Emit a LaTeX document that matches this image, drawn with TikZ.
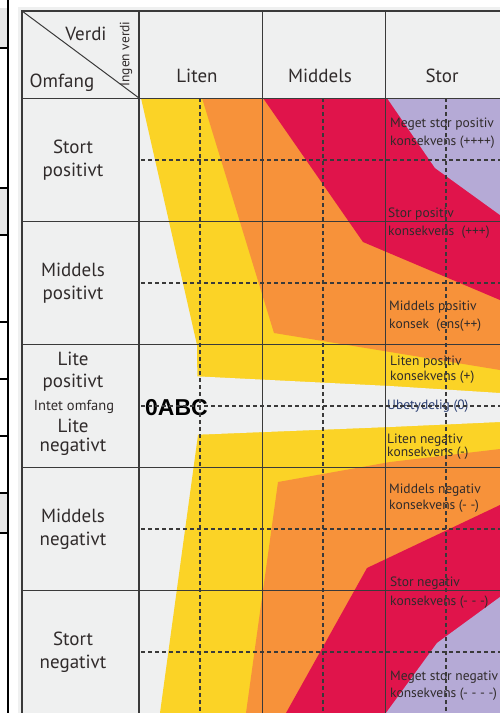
\documentclass[tikz,border=0pt]{standalone}
\usepackage{fontspec}
\setmainfont{PT Sans}
\newfontfamily\abcfont{Liberation Sans}
\usepackage{tikz}
\usetikzlibrary{positioning}
\pgfdeclarelayer{back}
\pgfsetlayers{back,main}
\definecolor{bg-color}{HTML}{EFF0F0}
\definecolor{strip-color}{HTML}{E6E6E6}
\definecolor{y-color}{HTML}{FBD326}
\definecolor{o-color}{HTML}{F7923A}
\definecolor{r-color}{HTML}{E0144B}
\definecolor{l-color}{HTML}{B5AAD6}
\definecolor{line-color}{HTML}{3A3A3A}
\definecolor{txt-color}{HTML}{302B2B}
\definecolor{u-color}{HTML}{2B3F73}

\begin{document}
\begin{tikzpicture}[x=1pt, y=-1pt,
                every node/.append style={inner sep=0pt, text=txt-color},
                grid/.style={draw=line-color, line width=1pt},
                frame/.style={draw=line-color, line width=2pt},
                dashline/.style={draw=line-color, line width=1.2pt, dash pattern=on 4pt off 3pt},
                head/.style={font=\fontsize{19}{23}\selectfont, align=center},
                cons/.style={font=\fontsize{13.5}{15}\selectfont, anchor=base west}]

    \useasboundingbox (0,0) rectangle (500,713);

    \begin{pgfonlayer}{back}
        \fill[white] (0,0) rectangle (500,713);
        % strip of the next table on the left
        \fill[strip-color] (0,8) rectangle (8,48);
        \fill[strip-color] (0,188) rectangle (8,235);
        \fill[strip-color] (0,493) rectangle (8,533);
        \fill[bg-color] (18,7) rectangle (500,713);
        % consequence zones
        \fill[y-color] (141,98) -- (197,345) -- (198,435) -- (160,713) -- (500,713) -- (500,98) -- cycle;
        \fill[bg-color] (190,376) -- (390,386) -- (500,393) -- (500,422) -- (390,427) -- (190,435) -- cycle;
        \fill[o-color] (202,98) -- (274,333) -- (390,352) -- (500,370) -- (500,98) -- cycle;
        \fill[o-color] (278,482) -- (390,462) -- (500,449) -- (500,713) -- (246,713) -- cycle;
        \fill[r-color] (263,98) -- (363,242) -- (500,300) -- (500,98) -- cycle;
        \fill[r-color] (500,505) -- (367,568) -- (286,713) -- (500,713) -- cycle;
        \fill[l-color] (387,98) -- (435,168) -- (500,215) -- (500,98) -- cycle;
        \fill[l-color] (500,597) -- (437,643) -- (386,713) -- (500,713) -- cycle;
    \end{pgfonlayer}

    % header
    \node[head, anchor=base] (verdi) at (86,40) {Verdi};
    \node[head, anchor=base] (omfang) at (62,87) {Omfang};
    \node[rotate=90, font=\fontsize{13.5}{15}\selectfont] (ingen) at (126,54) {Ingen verdi};
    \node[head, anchor=base] (liten) at (197,82) {Liten};
    \node[head, anchor=base] (middels) at (320,82) {Middels};
    \node[head, anchor=base] (stor) at (442,82) {Stor};

    % extent
    \node[head] (sp) at (73,160) {Stort\\positivt};
    \node[head] (mp) at (73,283) {Middels\\positivt};
    \node[head, anchor=base] (lp1) at (73,365) {Lite};
    \node[head, anchor=base] (lp2) at (73,387) {positivt};
    \node[anchor=base, font=\fontsize{14.5}{16}\selectfont] (io) at (74,410) {Intet omfang};
    \node[head, anchor=base] (ln1) at (73,432) {Lite};
    \node[head, anchor=base] (ln2) at (73,451) {negativt};
    \node[head] (mn) at (73,529) {Middels\\negativt};
    \node[head] (sn) at (73,652) {Stort\\negativt};

    \node[anchor=base, text=black, font=\abcfont\bfseries\fontsize{23}{25}\selectfont] (abc) at (176.5,415) {0ABC};

    % consequences
    \node[cons] (msp) at (390,127) {Meget stor positiv};
    \node[cons, below=18pt of msp.base west, anchor=base west] (msp2) {konsekvens (++++)};
    \node[cons] (stp) at (388,217) {Stor positiv};
    \node[cons, below=18pt of stp.base west, anchor=base west] (stp2) {konsekvens\ \ (+++)};
    \node[cons] (mdp) at (389,310) {Middels positiv};
    \node[cons, below=18pt of mdp.base west, anchor=base west] (mdp2) {konsek\ \ (ens(++)};
    \node[cons] (ltp) at (390,365) {Liten positiv};
    \node[cons, below=15pt of ltp.base west, anchor=base west] (ltp2) {konsekvens (+)};
    \node[cons, text=u-color] (ub) at (387,409) {Ubetydelig (0)};
    \node[cons] (ltn) at (387,443) {Liten negativ};
    \node[cons, below=13pt of ltn.base west, anchor=base west] (ltn2) {konsekvens (-)};
    \node[cons] (mdn) at (389,493) {Middels negativ};
    \node[cons, below=16pt of mdn.base west, anchor=base west] (mdn2) {konsekvens (- -)};
    \node[cons] (stn) at (390,586) {Stor negativ};
    \node[cons, below=19pt of stn.base west, anchor=base west] (stn2) {konsekvens (- - -)};
    \node[cons] (msn) at (390,680) {Meget stor negativ};
    \node[cons, below=17pt of msn.base west, anchor=base west] (msn2) {konsekvens (- - - -)};

    % strip lines
    \foreach \y in {48,188,235,322,379,436,493,533}
        \draw[line width=1.5pt] (0,\y) -- (8,\y);
    \draw[line width=2pt] (8,0) -- (8,713);

    % table
    \foreach \y in {98,221,344,467,590}
        \draw[grid] (22,\y) -- (500,\y);
    \foreach \x in {262,385}
        \draw[grid] (\x,11) -- (\x,713);
    \foreach \x in {200,323,446}
        \draw[dashline] (\x,98) -- (\x,713);
    \foreach \y in {160,283,406,529,652}
        \draw[dashline] (141,\y) -- (500,\y);
    \draw[grid] (22,11) -- (139,98);
    \draw[frame] (500,11) -- (22,11) -- (22,713);
    \draw[frame, line width=2.5pt] (139,11) -- (139,713);
\end{tikzpicture}
\end{document}
